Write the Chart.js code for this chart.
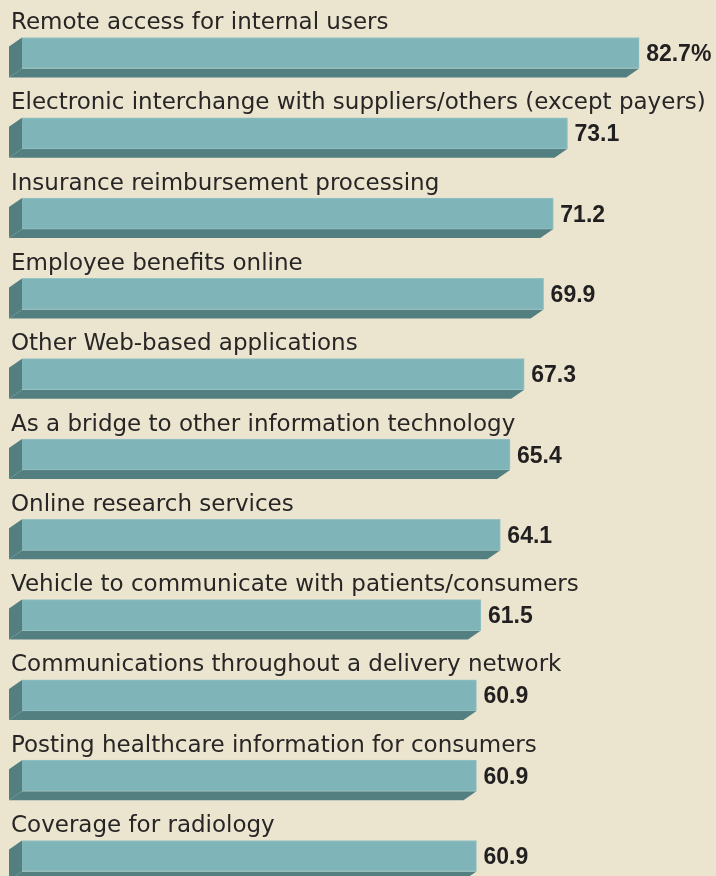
<!DOCTYPE html>
<html lang="en">
<head>
    <meta charset="UTF-8">
    <title>Web-based applications</title>
    <script src="https://cdn.jsdelivr.net/npm/chart.js"></script>
    <style>
        html, body {
            margin: 0;
            padding: 0;
            background-color: #ebe5cf;
        }
        .wrap {
            position: relative;
            width: 716px;
            height: 876px;
        }
    </style>
</head>
<body>
    <div class="wrap">
        <canvas id="usesChart"></canvas>
    </div>

    <script>
        // Chart data
        const categories = [
            'Remote access for internal users',
            'Electronic interchange with suppliers/others (except payers)',
            'Insurance reimbursement processing',
            'Employee benefits online',
            'Other Web-based applications',
            'As a bridge to other information technology',
            'Online research services',
            'Vehicle to communicate with patients/consumers',
            'Communications throughout a delivery network',
            'Posting healthcare information for consumers',
            'Coverage for radiology'
        ];
        const values = [82.7, 73.1, 71.2, 69.9, 67.3, 65.4, 64.1, 61.5, 60.9, 60.9, 60.9];
        const valueLabels = ['82.7%', '73.1', '71.2', '69.9', '67.3', '65.4', '64.1', '61.5', '60.9', '60.9', '60.9'];

        const faceColor = '#7fb4b8';
        const sideColor = '#547f81';

        // draws the dark side and bottom of each bar, then the texts
        const bar3d = {
            id: 'bar3d',
            beforeDatasetsDraw(chart) {
                const ctx = chart.ctx;
                const depthX = -13, depthY = 9;
                chart.getDatasetMeta(0).data.forEach(bar => {
                    const top = bar.y - bar.height / 2;
                    const bottom = bar.y + bar.height / 2;
                    ctx.save();
                    ctx.fillStyle = sideColor;
                    // left side
                    ctx.beginPath();
                    ctx.moveTo(bar.base, top);
                    ctx.lineTo(bar.base, bottom);
                    ctx.lineTo(bar.base + depthX, bottom + depthY);
                    ctx.lineTo(bar.base + depthX, top + depthY);
                    ctx.closePath();
                    ctx.fill();
                    // bottom side
                    ctx.beginPath();
                    ctx.moveTo(bar.base, bottom);
                    ctx.lineTo(bar.x, bottom);
                    ctx.lineTo(bar.x + depthX, bottom + depthY);
                    ctx.lineTo(bar.base + depthX, bottom + depthY);
                    ctx.closePath();
                    ctx.fill();
                    ctx.restore();
                });
            },
            afterDatasetsDraw(chart) {
                const ctx = chart.ctx;
                chart.getDatasetMeta(0).data.forEach((bar, i) => {
                    ctx.save();
                    ctx.textBaseline = 'alphabetic';
                    ctx.textAlign = 'left';
                    // category label above the bar
                    ctx.fillStyle = '#272525';
                    ctx.font = '23px "DejaVu Sans"';
                    ctx.fillText(categories[i], 11, bar.y - 24);
                    // value at the end of the bar
                    ctx.fillStyle = '#221f20';
                    ctx.font = 'bold 23px "Liberation Sans"';
                    ctx.fillText(valueLabels[i], bar.x + 7, bar.y + 8);
                    ctx.restore();
                });
            }
        };

        const ctx = document.getElementById('usesChart').getContext('2d');
        const usesChart = new Chart(ctx, {
            type: 'bar',
            data: {
                labels: categories,
                datasets: [{
                    data: values,
                    backgroundColor: faceColor,
                    borderColor: '#93c2c4',
                    borderWidth: 1,
                    borderSkipped: 'start',
                    barThickness: 31,
                    clip: false
                }]
            },
            options: {
                indexAxis: 'y',
                responsive: true,
                maintainAspectRatio: false,
                animation: false,
                layout: {
                    padding: { left: 22, right: 0, top: 53, bottom: 20 }
                },
                scales: {
                    x: { display: false, min: 0, max: 93 },
                    y: { display: false, offset: false }
                },
                plugins: {
                    legend: { display: false },
                    tooltip: { enabled: false }
                }
            },
            plugins: [bar3d]
        });
    </script>
</body>
</html>
